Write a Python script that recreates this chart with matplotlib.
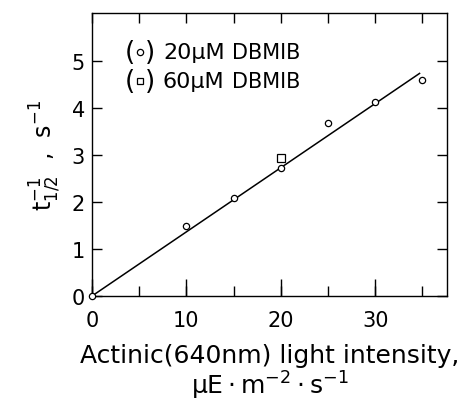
import matplotlib
matplotlib.use("Agg")
import matplotlib.pyplot as plt
import numpy as np
from matplotlib.ticker import MultipleLocator

# data
x_20 = [0, 10, 15, 20, 25, 30, 35]
y_20 = [0.0, 1.48, 2.08, 2.72, 3.68, 4.12, 4.60]
x_60 = [20]
y_60 = [2.93]
fit_x = [0, 34.7]
fit_slope = 0.1365
x_ticks = [0, 10, 20, 30]
y_ticks = [0, 1, 2, 3, 4, 5]

plt.rcParams['font.family'] = ['DejaVu Sans']
fig = plt.figure(figsize=(4.67, 4.10), dpi=100)
ax = fig.add_axes([0.197, 0.2756, 0.760, 0.690])

fx = np.array(fit_x)
ax.plot(fx, fit_slope * fx, color='black', lw=1.1, zorder=2)
ax.plot(x_20, y_20, linestyle='none', marker='o', ms=4.5, mfc='white',
        mec='black', mew=0.9, zorder=3, clip_on=False)
ax.plot(x_60, y_60, linestyle='none', marker='s', ms=6, mfc='white',
        mec='black', mew=0.9, zorder=3)

ax.set_xlim(0, 37.6)
ax.set_ylim(0, 6.02)
ax.set_xticks(x_ticks)
ax.set_yticks(y_ticks)
ax.xaxis.set_minor_locator(MultipleLocator(5))
ax.xaxis.remove_overlapping_locs = False
ax.tick_params(axis='x', which='major', direction='in', length=12, width=1,
               top=False, bottom=True, labelsize=15, pad=10)
ax.tick_params(axis='x', which='minor', direction='in', length=7, width=1,
               top=True, bottom=True)
ax.tick_params(axis='y', which='major', direction='in', length=7, width=1,
               left=True, right=True, labelsize=15, pad=5)
for s in ax.spines.values():
    s.set_linewidth(1.0)

ax.set_xlabel("Actinic(640nm) light intensity,\n" + r"$\mathregular{\mu E\cdot m^{-2}\cdot s^{-1}}$",
              fontsize=18, linespacing=1.1)
ax.xaxis.set_label_coords(0.50, -0.165, transform=ax.transAxes)
ax.xaxis.label.set_verticalalignment('top')
ax.set_ylabel(r"$\mathregular{t_{1/2}^{-1}}$  ,  $\mathregular{s^{-1}}$", fontsize=17, labelpad=6)

# legend
rows = [(0.862, 'o', 4.5, '20µM'), (0.760, 's', 5.0, '60µM')]
for yy, mk, ms, lab in rows:
    ax.text(0.092, yy, '(', transform=ax.transAxes, fontsize=19, va='center', ha='left')
    ax.plot([0.135], [yy], marker=mk, ms=ms, mfc='white', mec='black', mew=0.9,
            transform=ax.transAxes, linestyle='none')
    ax.text(0.150, yy, ')', transform=ax.transAxes, fontsize=19, va='center', ha='left')
    ax.text(0.200, yy, lab, transform=ax.transAxes, fontsize=16, va='center', ha='left')
    ax.text(0.395, yy, 'DBMIB', transform=ax.transAxes, fontsize=15, va='center', ha='left')

fig.savefig("out.png", dpi=100)
